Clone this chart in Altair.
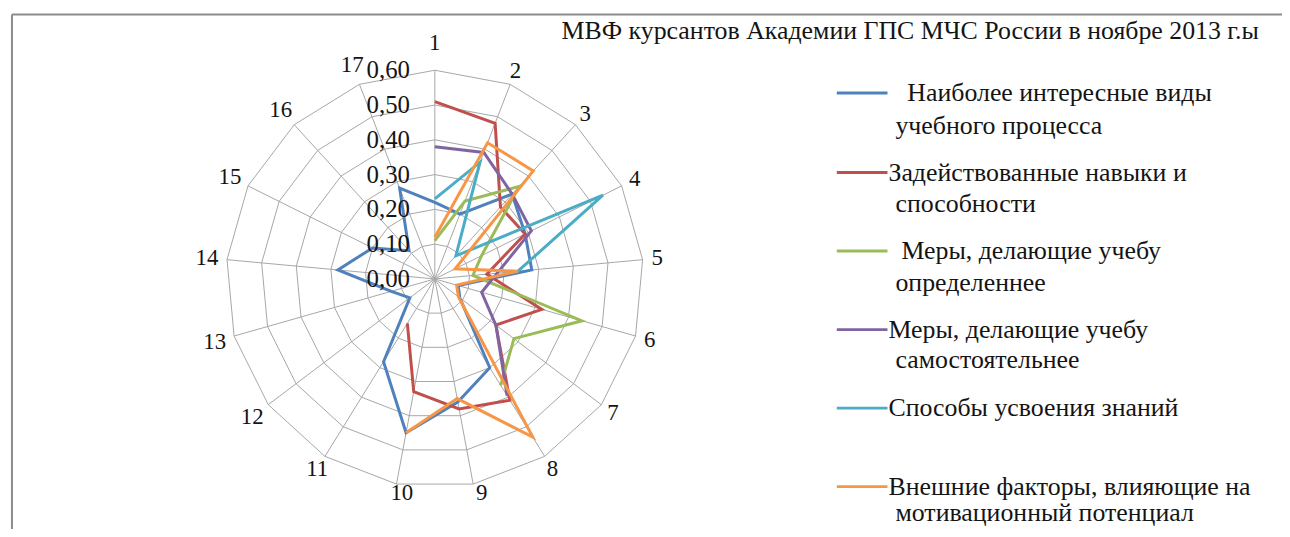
import altair as alt
import pandas as pd

# ---------------- data ----------------
axis_labels = [str(i) for i in range(1, 18)]
tick_values = [0.0, 0.1, 0.2, 0.3, 0.4, 0.5, 0.6]
tick_labels = ["0,00", "0,10", "0,20", "0,30", "0,40", "0,50", "0,60"]

series_names = [
    "Наиболее интересные виды учебного процесса",
    "Задействованные навыки и способности",
    "Меры, делающие учебу определеннее",
    "Меры, делающие учебу самостоятельнее",
    "Способы усвоения знаний",
    "Внешние факторы, влияющие на мотивационный потенциал",
]
legend_lines = [
    ["Наиболее интересные виды", "учебного процесса"],
    ["Задействованные навыки и", "способности"],
    ["Меры, делающие учебу", "определеннее"],
    ["Меры, делающие учебу", "самостоятельнее"],
    ["Способы усвоения знаний"],
    ["Внешние факторы, влияющие на", "мотивационный потенциал"],
]
colors = ["#4F81BD", "#C0504D", "#9BBB59", "#8064A2", "#4BACC6", "#F79646"]

N = None
s1 = [0.22, 0.20, 0.33, 0.29, 0.28, 0.07, 0.09, 0.30, 0.36, 0.45, 0.28, 0.09, 0.13, 0.28, 0.20, 0.11, 0.28]
s2 = [0.51, 0.48, 0.28, 0.29, 0.15, 0.32, 0.22, 0.41, 0.38, 0.33, 0.15, N, N, N, N, N, N]
s3 = [0.11, 0.24, 0.36, 0.15, 0.11, 0.44, 0.285, 0.36, N, N, N, N, N, N, N, N, N]
s4 = [0.38, 0.39, 0.33, 0.31, 0.18, 0.14, 0.22, 0.395, N, N, N, N, N, N, N, N, N]
s5 = [0.23, 0.36, 0.09, 0.54, 0.24, N, N, N, N, N, N, N, N, N, N, N, N]
s6 = [0.12, 0.42, 0.42, 0.065, 0.24, 0.065, 0.085, 0.535, 0.35, 0.45, N, N, N, N, N, N, N]
series_values = [s1, s2, s3, s4, s5, s6]

title_text = "МВФ курсантов Академии ГПС МЧС России в ноябре 2013 г.ы"

# ---------------- layout ----------------
W, H = 1282, 521
cx, cy, ppu = 429.5, 271.0, 350.0          # centre (plot px) and px per unit
xs = alt.Scale(domain=[-cx / ppu, (W - cx) / ppu], nice=False, zero=False)
ys = alt.Scale(domain=[-(H - cy) / ppu, cy / ppu], nice=False, zero=False)
NAX = len(axis_labels)
FONT = "Liberation Serif"
GRID = "#a6a6a6"
TXT = "#141414"

ang = f"datum.idx * 2 * PI / {NAX}"

# radar series
rows = []
for name, vals in zip(series_names, series_values):
    pts = [(i, v) for i, v in enumerate(vals) if v is not None]
    for o, (i, v) in enumerate(pts):
        rows.append(dict(series=name, idx=i, value=v, order=o))
    if len(pts) == NAX:
        rows.append(dict(series=name, idx=0, value=vals[0], order=NAX))
radar_df = pd.DataFrame(rows)

rings_df = pd.DataFrame(
    [dict(tick=t, idx=i % NAX, order=i) for t in tick_values[1:] for i in range(NAX + 1)]
)
spokes_df = pd.DataFrame([dict(idx=i, value=max(tick_values)) for i in range(NAX)])
alab_df = pd.DataFrame([dict(idx=i, label=l) for i, l in enumerate(axis_labels)])
tick_df = pd.DataFrame(dict(value=tick_values, label=tick_labels))

# legend layout (plot pixels)
leg_y0 = [84, 164, 243, 322, 401, 480]
leg_gap = [33, 32, 32, 31, 31, 27]
first_indent = [20, 1, 14, 1, 1, 1]
leg_rows, leg_sym = [], []
for k, lns in enumerate(legend_lines):
    leg_sym.append(dict(series=series_names[k], x1=834, x2=885, y=leg_y0[k]))
    for j, t in enumerate(lns):
        leg_rows.append(dict(text=t, px=(885 + first_indent[k]) if j == 0 else 893,
                             py=leg_y0[k] + leg_gap[k] * j))
leg_df = pd.DataFrame(leg_rows)
sym_df = pd.DataFrame(leg_sym)

color = alt.Color("series:N", scale=alt.Scale(domain=series_names, range=colors), legend=None)

frame_top = alt.Chart(pd.DataFrame({"a": [0]})).mark_rule(color="#8c8c8c", strokeWidth=2).encode(
    x=alt.value(4), x2=alt.value(1400), y=alt.value(5))
frame_left = alt.Chart(pd.DataFrame({"a": [0]})).mark_rule(color="#8c8c8c", strokeWidth=2).encode(
    x=alt.value(4), y=alt.value(5), y2=alt.value(700))

rings = alt.Chart(rings_df).transform_calculate(
    x=f"datum.tick * sin({ang})", y=f"datum.tick * cos({ang})"
).mark_line(color=GRID, strokeWidth=1).encode(
    x=alt.X("x:Q", scale=xs, axis=None),
    y=alt.Y("y:Q", scale=ys, axis=None),
    detail="tick:N",
    order="order:Q",
)

spokes = alt.Chart(spokes_df).transform_calculate(
    x0="0", y0="0",
    x=f"datum.value * sin({ang})", y=f"datum.value * cos({ang})"
).mark_rule(color=GRID, strokeWidth=1).encode(
    x=alt.X("x0:Q", scale=xs, axis=None), y=alt.Y("y0:Q", scale=ys, axis=None),
    x2="x:Q", y2="y:Q",
)

lines = alt.Chart(radar_df).transform_calculate(
    x=f"datum.value * sin({ang})", y=f"datum.value * cos({ang})"
).mark_line(strokeWidth=3, strokeJoin="miter").encode(
    x=alt.X("x:Q", scale=xs, axis=None),
    y=alt.Y("y:Q", scale=ys, axis=None),
    color=color,
    order="order:Q",
)

ticks_txt = alt.Chart(tick_df).transform_calculate(x0="0").mark_text(
    align="right", baseline="middle", dx=-25, font=FONT, fontSize=25, color=TXT
).encode(
    x=alt.X("x0:Q", scale=xs, axis=None), y=alt.Y("value:Q", scale=ys, axis=None), text="label:N"
)

alabels = alt.Chart(alab_df).transform_calculate(
    r="datum.idx == 0 ? 0.677 : (datum.idx == 8 || datum.idx == 9) ? 0.625 : "
      "(length(datum.label) == 2 && datum.idx > 10) ? 0.658 : 0.642",
).transform_calculate(
    x=f"datum.r * sin({ang}) + (datum.idx == 8 || datum.idx == 9 ? 0.02 : 0)",
    y=f"datum.r * cos({ang})"
).mark_text(align="center", baseline="middle", font=FONT, fontSize=23, color=TXT).encode(
    x=alt.X("x:Q", scale=xs, axis=None), y=alt.Y("y:Q", scale=ys, axis=None), text="label:N"
)

radar = alt.layer(rings, spokes, lines, ticks_txt, alabels)

leg_sym_ch = alt.Chart(sym_df).mark_rule(strokeWidth=3).encode(
    x=alt.X("x1:Q", scale=None), x2="x2:Q", y=alt.Y("y:Q", scale=None),
    color=alt.Color("series:N", scale=alt.Scale(domain=series_names, range=colors), legend=None),
)
leg_txt = alt.Chart(leg_df).mark_text(
    align="left", baseline="middle", font=FONT, fontSize=26, color=TXT
).encode(x=alt.X("px:Q", scale=None), y=alt.Y("py:Q", scale=None), text="text:N")

title = alt.Chart(pd.DataFrame({"t": [title_text]})).mark_text(
    align="left", baseline="middle", font=FONT, fontSize=26, color=TXT
).encode(x=alt.value(557), y=alt.value(22), text="t:N")

chart = alt.layer(
    frame_top, frame_left, radar, leg_sym_ch, leg_txt, title
).resolve_scale(x="independent", y="independent", color="independent").properties(
    width=W, height=H, padding=0, autosize=alt.AutoSizeParams(type="none")
).configure_view(stroke=None)

chart.save("out.html", embed_options={"renderer": "svg", "actions": False})
